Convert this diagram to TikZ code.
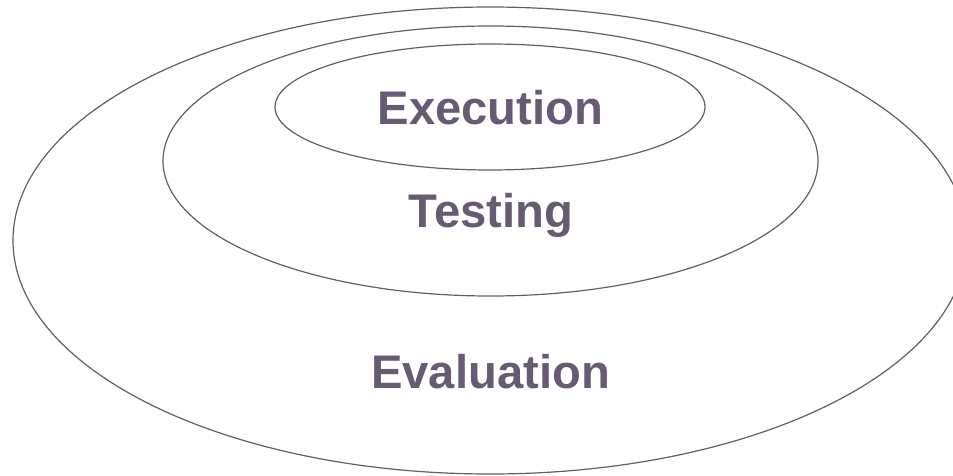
\documentclass[tikz,border=0pt]{standalone}
\usepackage{fontspec}
\setmainfont{Liberation Sans}
\usetikzlibrary{shapes.geometric}
\definecolor{ringline}{HTML}{606060}
\definecolor{labeltext}{HTML}{665A74}
\tikzset{
  ring/.style={ellipse, draw=ringline, line width=1.2pt, inner sep=0pt},
  lbl/.style={anchor=base, text=labeltext, font=\bfseries\fontsize{47.2}{50}\selectfont, inner sep=0pt}
}
\begin{document}
\begin{tikzpicture}[x=1pt,y=1pt]
\useasboundingbox (0,0) rectangle (953,475);
\clip (0,0) rectangle (953,475);
\node[ring, minimum width=954pt, minimum height=467pt] (outer) at (490,234.5) {};
\node[ring, minimum width=655pt, minimum height=270pt] (middle) at (490.5,314) {};
\node[ring, minimum width=430pt, minimum height=126pt] (inner) at (490,368) {};
\node[lbl] (exec) at (490.5,350) {Execution};
\node[lbl] (test) at (491,248) {Testing};
\node[lbl] (eval) at (490.5,87) {Evaluation};
\end{tikzpicture}
\end{document}
